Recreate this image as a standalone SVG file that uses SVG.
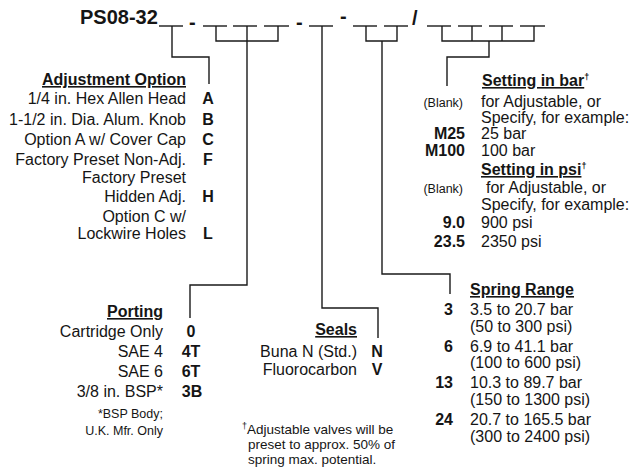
<svg xmlns="http://www.w3.org/2000/svg" width="637" height="471" viewBox="0 0 637 471">
<style>
text{font-family:"Liberation Sans",Arial,sans-serif;font-size:16px;fill:#151515}
.b{font-weight:bold}
.u{text-decoration:underline}
.r{text-anchor:end}
.m{text-anchor:middle}
.s{font-size:12.5px}
.f{font-size:13.5px}
.sup{font-size:9px}
.t{font-size:20px;font-weight:bold}
line,path{stroke:#1a1a1a;stroke-width:1.4;fill:none}
</style>
<rect width="637" height="471" fill="#fff"/>
<g id="model-number">
<text class="t" x="80" y="24">PS08-32</text>
<text class="t" x="189" y="29">-</text>
<text class="t" x="296" y="29">-</text>
<text class="t" x="340" y="23">-</text>
<text class="t" x="412" y="25">/</text>
<g id="blanks">
<line x1="159" y1="26" x2="183" y2="26"/>
<line x1="203" y1="26" x2="227" y2="26"/>
<line x1="233" y1="26" x2="257" y2="26"/>
<line x1="264" y1="26" x2="289" y2="26"/>
<line x1="309" y1="26" x2="333" y2="26"/>
<line x1="353" y1="26" x2="377" y2="26"/>
<line x1="384" y1="26" x2="408" y2="26"/>
<line x1="427" y1="26" x2="451" y2="26"/>
<line x1="458" y1="26" x2="482" y2="26"/>
<line x1="489" y1="26" x2="513" y2="26"/>
<line x1="520" y1="26" x2="545" y2="26"/>
</g>
</g>
<g id="connectors">
<path d="M172,26 V57 H209 V84"/>
<path d="M216,26 V41 H278 V26"/>
<path d="M247,26 V285 H190 V318"/>
<path d="M322,26 V308 H378 V338"/>
<path d="M366,26 V41 H397 V26"/>
<path d="M382,41 V274 H450 V294"/>
<path d="M442,26 V41 H534 V26"/>
<path d="M472,26 V41 M502,26 V41"/>
<path d="M489,41 V57 H447 V86"/>
</g>
<g id="adjustment-option">
<text class="b u r" x="186" y="85">Adjustment Option</text>
<text class="r" x="186" y="104">1/4 in. Hex Allen Head</text>
<text class="r" x="186" y="125">1-1/2 in. Dia. Alum. Knob</text>
<text class="r" x="186" y="145">Option A w/ Cover Cap</text>
<text class="r" x="186" y="165">Factory Preset Non-Adj.</text>
<text class="r" x="186" y="183">Factory Preset</text>
<text class="r" x="186" y="202">Hidden Adj.</text>
<text class="r" x="186" y="222">Option C w/</text>
<text class="r" x="186" y="239">Lockwire Holes</text>
<text class="b m" x="208" y="104">A</text>
<text class="b m" x="208" y="125">B</text>
<text class="b m" x="208" y="145">C</text>
<text class="b m" x="208" y="165">F</text>
<text class="b m" x="208" y="202">H</text>
<text class="b m" x="208" y="239">L</text>
</g>
<g id="porting">
<text class="b u r" x="163" y="317">Porting</text>
<text class="r" x="163" y="337">Cartridge Only</text>
<text class="r" x="163" y="357">SAE 4</text>
<text class="r" x="163" y="377">SAE 6</text>
<text class="r" x="163" y="397">3/8 in. BSP*</text>
<text class="b m" x="191" y="337">0</text>
<text class="b m" x="191" y="357">4T</text>
<text class="b m" x="191" y="377">6T</text>
<text class="b m" x="192" y="397">3B</text>
<text class="s r" x="163" y="418">*BSP Body;</text>
<text class="s r" x="163" y="435">U.K. Mfr. Only</text>
</g>
<g id="seals">
<text class="b u r" x="357" y="335">Seals</text>
<text class="r" x="357" y="357">Buna N (Std.)</text>
<text class="r" x="357" y="375">Fluorocarbon</text>
<text class="b m" x="377" y="357">N</text>
<text class="b m" x="377" y="375">V</text>
</g>
<g id="footnote">
<text class="f" x="242" y="434"><tspan class="sup" dy="-5">†</tspan><tspan dy="5">Adjustable valves will be</tspan></text>
<text class="f" x="248" y="449">preset to approx. 50% of</text>
<text class="f" x="248" y="464">spring max. potential.</text>
</g>
<g id="spring-range">
<text class="b u" x="470" y="295">Spring Range</text>
<text class="b r" x="453" y="315">3</text>
<text x="470" y="315">3.5 to 20.7 bar</text>
<text x="470" y="332">(50 to 300 psi)</text>
<text class="b r" x="453" y="352">6</text>
<text x="470" y="352">6.9 to 41.1 bar</text>
<text x="470" y="368">(100 to 600 psi)</text>
<text class="b r" x="453" y="388">13</text>
<text x="470" y="388">10.3 to 89.7 bar</text>
<text x="470" y="405">(150 to 1300 psi)</text>
<text class="b r" x="453" y="425">24</text>
<text x="470" y="425">20.7 to 165.5 bar</text>
<text x="470" y="442">(300 to 2400 psi)</text>
</g>
<g id="setting">
<text class="b" x="482" y="86"><tspan class="u">Setting in bar</tspan><tspan class="sup" dy="-6">†</tspan></text>
<text class="s r" x="463" y="107">(Blank)</text>
<text x="481" y="107">for Adjustable, or</text>
<text x="481" y="123">Specify, for example:</text>
<text class="b r" x="465" y="139">M25</text>
<text x="481" y="139">25 bar</text>
<text class="b r" x="465" y="156">M100</text>
<text x="481" y="156">100 bar</text>
<text class="b" x="481" y="175"><tspan class="u">Setting in psi</tspan><tspan class="sup" dy="-6">†</tspan></text>
<text class="s r" x="463" y="193">(Blank)</text>
<text x="486" y="193">for Adjustable, or</text>
<text x="481" y="210">Specify, for example:</text>
<text class="b r" x="465" y="228">9.0</text>
<text x="481" y="228">900 psi</text>
<text class="b r" x="465" y="247">23.5</text>
<text x="481" y="247">2350 psi</text>
</g>
</svg>
